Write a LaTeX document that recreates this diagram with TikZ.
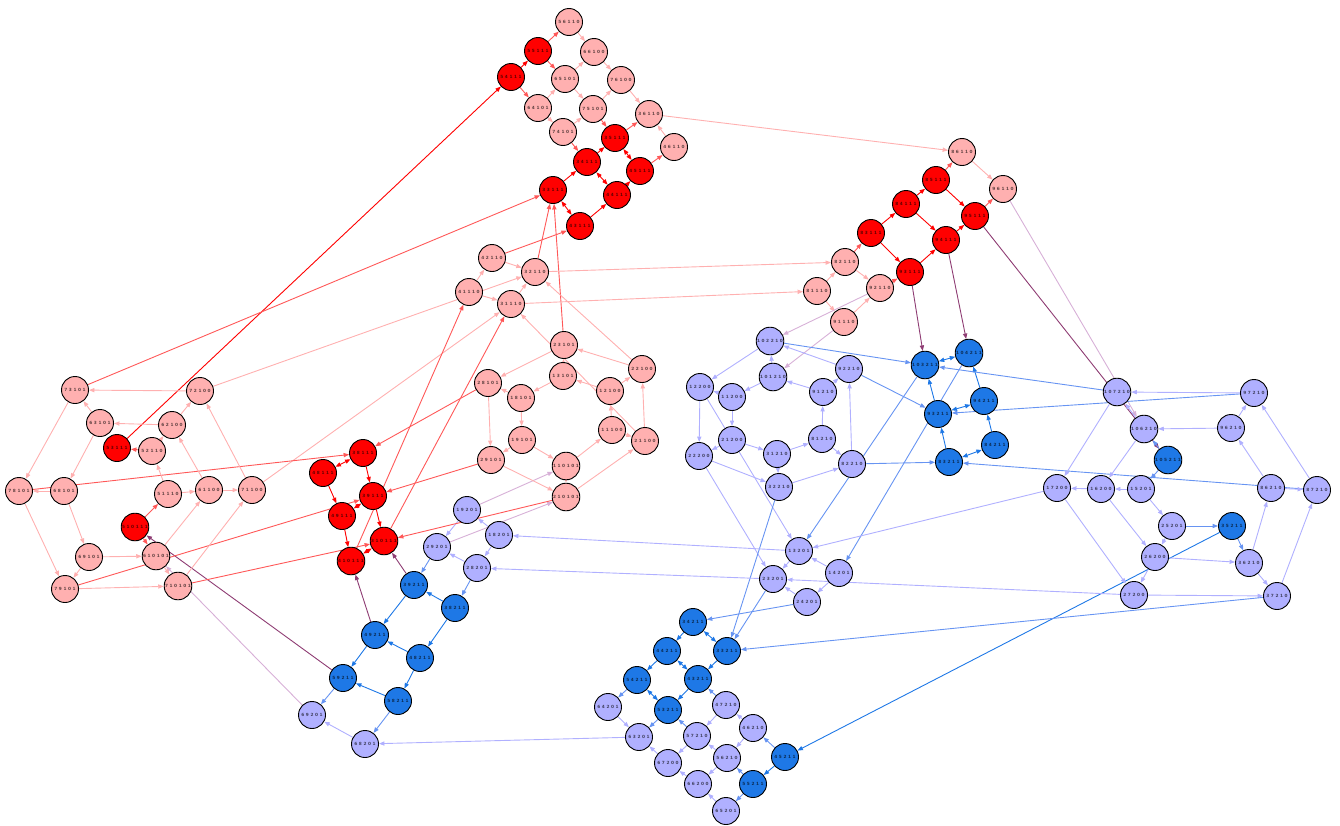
\documentclass[tikz,border=0pt]{standalone}
\usepackage{fontspec}
\usetikzlibrary{arrows.meta}
\newfontfamily\lblfamily{DejaVu Sans}
\pgfdeclarelayer{bg}
\pgfsetlayers{bg,main}

% node fills
\definecolor{nR}{RGB}{255,0,0}
\definecolor{nr}{RGB}{255,176,176}
\definecolor{nB}{RGB}{30,120,230}
\definecolor{nb}{RGB}{176,176,255}
% edge colours: mix of the two end colours
\definecolor{cRR}{RGB}{255,0,0}
\definecolor{cRr}{RGB}{255,88,88}
\definecolor{crr}{RGB}{255,176,176}
\definecolor{cBB}{RGB}{30,120,230}
\definecolor{cBb}{RGB}{103,148,242}
\definecolor{cbb}{RGB}{176,176,255}
\definecolor{cRB}{RGB}{142,60,115}
\definecolor{crb}{RGB}{215,176,215}

% letter-spaced state label
\def\lbA#1{\ifx#1\relax\else\kern0.8bp#1\kern0.8bp\expandafter\lbA\fi}
\newcommand\lb[1]{\lbA#1\relax}

\tikzset{
  st/.style={circle, draw=black, line width=0.9bp, minimum size=27bp, inner sep=0pt,
    font=\lblfamily\bfseries\fontsize{4.3}{5}\selectfont, text=black, text opacity=0.62},
  vR/.style={st, fill=nR}, vr/.style={st, fill=nr},
  vB/.style={st, fill=nB}, vb/.style={st, fill=nb},
  ed/.style={line width=0.9bp, -{Triangle[length=5.5bp,width=4.2bp]}},
  two/.style={{Triangle[length=5.5bp,width=4.2bp]}-{Triangle[length=5.5bp,width=4.2bp]}},
  xRR/.style={ed, draw=cRR}, xRr/.style={ed, draw=cRr}, xrr/.style={ed, draw=crr},
  xBB/.style={ed, draw=cBB}, xBb/.style={ed, draw=cBb}, xbb/.style={ed, draw=cbb},
  xRB/.style={ed, draw=cRB}, xrb/.style={ed, draw=crb},
}

\newcommand\N[4]{\node[#1] (n#2) at (#3,#4) {\lb{#2}};}
\newcommand\E[3]{\draw[#1] (n#2) -- (n#3);}

\begin{document}
\begin{tikzpicture}[x=1bp,y=-1bp]
\useasboundingbox (0,0) rectangle (1340,825);

% ---- upper red group
\N{vr}{56110}{569}{22}
\N{vR}{55111}{538}{51}
\N{vr}{66100}{594}{52}
\N{vR}{54111}{511}{77}
\N{vr}{65101}{565}{79}
\N{vr}{76100}{621}{80}
\N{vr}{64101}{538}{108}
\N{vr}{75101}{593}{109}
\N{vr}{36110}{649}{114}
\N{vr}{74101}{563}{132}
\N{vR}{35111}{615}{138}
\N{vr}{46110}{674}{147}
\N{vR}{34111}{587}{162}
\N{vR}{45111}{640}{171}
\N{vR}{33111}{553}{190}
\N{vR}{44111}{617}{195}
\N{vR}{43111}{580}{226}
\N{vr}{42110}{492}{258}
\N{vr}{32110}{535}{272}

% ---- right red group
\N{vr}{86110}{962}{152}
\N{vR}{85111}{936}{180}
\N{vr}{96110}{1003}{189}
\N{vR}{84111}{906}{204}
\N{vR}{95111}{975}{216}
\N{vR}{83111}{871}{233}
\N{vR}{94111}{946}{240}
\N{vr}{82110}{845}{262}
\N{vR}{93111}{910}{272}
\N{vr}{92110}{880}{288}
\N{vr}{81110}{817}{291}
\N{vr}{91110}{844}{322}

% ---- middle light red group
\N{vr}{41110}{469}{292}
\N{vr}{31110}{511}{304}
\N{vr}{23101}{564}{345}
\N{vr}{22100}{642}{369}
\N{vr}{13101}{563}{376}
\N{vr}{12100}{610}{391}
\N{vr}{28101}{488}{383}
\N{vr}{18101}{521}{398}
\N{vr}{11100}{612}{430}
\N{vr}{21100}{645}{441}
\N{vr}{19101}{522}{440}
\N{vr}{29101}{491}{460}
\N{vr}{110101}{566}{466}
\N{vr}{210101}{566}{497}

% ---- left red group
\N{vR}{38111}{363}{453}
\N{vR}{48111}{323}{473}
\N{vR}{39111}{373}{496}
\N{vR}{49111}{342}{516}
\N{vR}{310111}{384}{541}
\N{vR}{410111}{351}{561}
\N{vR}{53111}{117}{448}
\N{vR}{510111}{135}{527}

% ---- left light red group
\N{vr}{73101}{75}{390}
\N{vr}{72100}{200}{391}
\N{vr}{63101}{100}{423}
\N{vr}{62100}{172}{425}
\N{vr}{52110}{152}{451}
\N{vr}{78101}{19}{491}
\N{vr}{68101}{64}{491}
\N{vr}{51110}{168}{494}
\N{vr}{61100}{209}{490}
\N{vr}{71100}{252}{490}
\N{vr}{69101}{89}{557}
\N{vr}{610101}{156}{556}
\N{vr}{79101}{65}{589}
\N{vr}{710101}{178}{586}

% ---- lower left blue group
\N{vb}{19201}{467}{510}
\N{vb}{18201}{499}{535}
\N{vb}{29201}{437}{547}
\N{vb}{28201}{477}{568}
\N{vB}{39211}{414}{585}
\N{vB}{38211}{455}{608}
\N{vB}{49211}{375}{635}
\N{vB}{48211}{420}{658}
\N{vB}{59211}{343}{678}
\N{vB}{58211}{398}{701}
\N{vb}{69201}{312}{715}
\N{vb}{68201}{365}{744}

% ---- lower middle blue group
\N{vb}{13201}{799}{551}
\N{vb}{14201}{839}{573}
\N{vb}{23201}{773}{579}
\N{vb}{24201}{807}{602}
\N{vB}{34211}{693}{622}
\N{vB}{44211}{667}{651}
\N{vB}{33211}{727}{651}
\N{vB}{54211}{637}{680}
\N{vB}{43211}{698}{679}
\N{vb}{64201}{608}{707}
\N{vB}{53211}{668}{710}
\N{vb}{47210}{726}{705}
\N{vb}{63201}{639}{737}
\N{vb}{57210}{697}{736}
\N{vb}{46210}{753}{728}
\N{vb}{67200}{668}{763}
\N{vb}{56210}{727}{758}
\N{vB}{45211}{785}{757}
\N{vb}{66200}{698}{784}
\N{vB}{55211}{753}{784}
\N{vb}{65201}{726}{811}

% ---- middle right blue group
\N{vb}{102210}{770}{341}
\N{vb}{101210}{773}{377}
\N{vb}{92210}{849}{369}
\N{vb}{91210}{823}{392}
\N{vb}{12200}{700}{387}
\N{vb}{11200}{732}{397}
\N{vb}{21200}{732}{440}
\N{vb}{22200}{699}{456}
\N{vb}{31210}{777}{454}
\N{vb}{81210}{822}{439}
\N{vb}{82210}{852}{464}
\N{vb}{32210}{779}{487}
\N{vB}{103211}{925}{365}
\N{vB}{104211}{969}{353}
\N{vB}{93211}{938}{414}
\N{vB}{94211}{984}{401}
\N{vB}{83211}{949}{462}
\N{vB}{84211}{995}{445}

% ---- far right blue group
\N{vb}{107210}{1117}{392}
\N{vb}{97210}{1254}{393}
\N{vb}{106210}{1144}{429}
\N{vb}{96210}{1231}{428}
\N{vB}{105211}{1168}{460}
\N{vb}{17200}{1057}{488}
\N{vb}{16200}{1101}{489}
\N{vb}{15201}{1141}{489}
\N{vb}{86210}{1271}{488}
\N{vb}{87210}{1317}{490}
\N{vb}{25201}{1172}{526}
\N{vB}{35211}{1232}{526}
\N{vb}{26200}{1155}{557}
\N{vb}{36210}{1249}{563}
\N{vb}{27200}{1134}{595}
\N{vb}{37210}{1277}{596}

\begin{pgfonlayer}{bg}
% upper red group
\E{xRR}{54111}{55111}
\E{xRr}{55111}{56110}
\E{xRr}{55111}{65101}
\E{xRr}{54111}{64101}
\E{xrr}{64101}{65101}
\E{xrr}{65101}{66100}
\E{xrr}{56110}{66100}
\E{xrr}{66100}{76100}
\E{xrr}{65101}{75101}
\E{xrr}{64101}{74101}
\E{xrr}{74101}{75101}
\E{xrr}{75101}{76100}
\E{xrr}{76100}{36110}
\E{xRr}{75101}{35111}
\E{xRr}{74101}{34111}
\E{xRr}{35111}{36110}
\E{xrr}{46110}{36110}
\E{xRr}{45111}{46110}
\E{xRR,two}{35111}{45111}
\E{xRR}{34111}{35111}
\E{xRR,two}{34111}{44111}
\E{xRR}{44111}{45111}
\E{xRR}{33111}{34111}
\E{xRR,two}{33111}{43111}
\E{xRR}{43111}{44111}
\E{xRr}{42110}{43111}
\E{xrr}{42110}{32110}
\E{xRr}{32110}{33111}
\E{xRr}{23101}{33111}
\E{xRR}{53111}{54111}
\E{xRr}{73101}{33111}
\E{xrr}{36110}{86110}
\E{xrr}{32110}{82110}
\E{xrr}{31110}{81110}
\E{xrr}{41110}{42110}
\E{xrr}{41110}{31110}
\E{xrr}{31110}{32110}
\E{xrr}{72100}{32110}
\E{xrr}{71100}{31110}
\E{xRr}{410111}{41110}
\E{xRr}{310111}{31110}
% right red group
\E{xRr}{82110}{83111}
\E{xRR}{83111}{84111}
\E{xRR}{84111}{85111}
\E{xRr}{85111}{86110}
\E{xrr}{86110}{96110}
\E{xRR}{85111}{95111}
\E{xRr}{95111}{96110}
\E{xRR}{84111}{94111}
\E{xRR}{94111}{95111}
\E{xRR}{83111}{93111}
\E{xRR}{93111}{94111}
\E{xrr}{82110}{92110}
\E{xrr}{81110}{82110}
\E{xrr}{81110}{91110}
\E{xrr}{91110}{92110}
\E{xRr}{92110}{93111}
\E{xRB}{95111}{105211}
\E{xRB}{94111}{104211}
\E{xRB}{93111}{103211}
\E{xrb}{96110}{106210}
\E{xrb}{92110}{102210}
\E{xrb}{91110}{101210}
% middle right blue group
\E{xBB,two}{103211}{104211}
\E{xBB}{93211}{103211}
\E{xBB}{94211}{104211}
\E{xBB,two}{93211}{94211}
\E{xBB}{83211}{93211}
\E{xBB}{84211}{94211}
\E{xBB,two}{83211}{84211}
\E{xBb}{102210}{103211}
\E{xbb}{92210}{102210}
\E{xBb}{92210}{93211}
\E{xbb}{91210}{92210}
\E{xbb}{91210}{101210}
\E{xbb}{101210}{102210}
\E{xbb}{102210}{12200}
\E{xbb}{101210}{11200}
\E{xbb}{11200}{12200}
\E{xbb}{11200}{21200}
\E{xbb}{12200}{22200}
\E{xbb}{21200}{22200}
\E{xbb}{21200}{31210}
\E{xbb}{31210}{81210}
\E{xbb}{81210}{91210}
\E{xbb}{81210}{82210}
\E{xbb}{82210}{92210}
\E{xbb}{31210}{32210}
\E{xbb}{22200}{32210}
\E{xbb}{32210}{82210}
\E{xBb}{82210}{83211}
\E{xBb}{103211}{13201}
\E{xBb}{104211}{14201}
\E{xBb}{107210}{103211}
\E{xBb}{97210}{93211}
\E{xBb}{87210}{83211}
% far right blue group
\E{xbb}{97210}{107210}
\E{xbb}{96210}{106210}
\E{xbb}{96210}{97210}
\E{xbb}{86210}{96210}
\E{xbb}{87210}{97210}
\E{xbb}{86210}{87210}
\E{xbb}{107210}{17200}
\E{xbb}{106210}{16200}
\E{xBb}{105211}{15201}
\E{xBb}{105211}{106210}
\E{xbb}{106210}{107210}
\E{xbb}{15201}{16200}
\E{xbb}{16200}{17200}
\E{xbb}{15201}{25201}
\E{xBb}{25201}{35211}
\E{xBb}{35211}{36210}
\E{xBB}{35211}{45211}
\E{xbb}{25201}{26200}
\E{xbb}{16200}{26200}
\E{xbb}{26200}{36210}
\E{xbb}{26200}{27200}
\E{xbb}{17200}{27200}
\E{xbb}{36210}{37210}
\E{xbb}{27200}{37210}
\E{xbb}{37210}{87210}
\E{xbb}{36210}{86210}
\E{xbb}{17200}{13201}
\E{xbb}{27200}{23201}
\E{xBb}{37210}{33211}
\E{xbb}{12200}{13201}
\E{xbb}{22200}{23201}
\E{xBb}{32210}{33211}
% lower blue groups
\E{xBb}{24201}{34211}
\E{xbb}{24201}{23201}
\E{xbb}{13201}{23201}
\E{xbb}{14201}{13201}
\E{xbb}{14201}{24201}
\E{xBb}{23201}{33211}
\E{xbb}{23201}{28201}
\E{xbb}{13201}{18201}
\E{xbb}{18201}{19201}
\E{xbb}{19201}{29201}
\E{xbb}{18201}{28201}
\E{xbb}{28201}{29201}
\E{xBb}{28201}{38211}
\E{xBb}{29201}{39211}
\E{xBB}{38211}{39211}
\E{xBB}{38211}{48211}
\E{xBB}{39211}{49211}
\E{xBB}{48211}{49211}
\E{xBB}{48211}{58211}
\E{xBB}{49211}{59211}
\E{xBB}{58211}{59211}
\E{xBb}{58211}{68201}
\E{xBb}{59211}{69201}
\E{xbb}{68201}{69201}
\E{xbb}{63201}{68201}
\E{xbb}{64201}{63201}
\E{xBb}{54211}{64201}
\E{xBb}{53211}{63201}
\E{xBB}{44211}{54211}
\E{xBB,two}{54211}{53211}
\E{xbb}{67200}{63201}
\E{xBB}{34211}{44211}
\E{xBB,two}{34211}{33211}
\E{xBB}{33211}{43211}
\E{xBB,two}{44211}{43211}
\E{xBB}{43211}{53211}
\E{xBb}{47210}{43211}
\E{xbb}{47210}{57210}
\E{xbb}{46210}{47210}
\E{xBb}{57210}{53211}
\E{xbb}{57210}{67200}
\E{xbb}{56210}{57210}
\E{xbb}{46210}{56210}
\E{xBb}{45211}{46210}
\E{xBB}{45211}{55211}
\E{xBb}{55211}{56210}
\E{xbb}{56210}{66200}
\E{xbb}{66200}{67200}
\E{xbb}{65201}{66200}
\E{xBb}{55211}{65201}
\E{xRB}{39211}{310111}
\E{xRB}{49211}{410111}
\E{xRB}{59211}{510111}
\E{xrb}{69201}{610101}
\E{xrb}{19201}{110101}
\E{xrb}{29201}{210101}
% middle light red group
\E{xrr}{22100}{32110}
\E{xrr}{22100}{23101}
\E{xrr}{21100}{22100}
\E{xrr}{12100}{22100}
\E{xrr}{12100}{13101}
\E{xrr}{11100}{12100}
\E{xrr}{11100}{21100}
\E{xrr}{21100}{31110}
\E{xrr}{13101}{23101}
\E{xrr}{13101}{18101}
\E{xrr}{23101}{28101}
\E{xrr}{18101}{28101}
\E{xrr}{18101}{19101}
\E{xrr}{28101}{29101}
\E{xrr}{19101}{29101}
\E{xrr}{19101}{110101}
\E{xrr}{110101}{210101}
\E{xrr}{29101}{210101}
\E{xRr}{29101}{39111}
\E{xRr}{28101}{38111}
\E{xRr}{210101}{310111}
\E{xrr}{110101}{11100}
\E{xrr}{210101}{21100}
% left red group
\E{xRR,two}{38111}{48111}
\E{xRR,two}{39111}{49111}
\E{xRR,two}{310111}{410111}
\E{xRR}{38111}{39111}
\E{xRR}{48111}{49111}
\E{xRR}{39111}{310111}
\E{xRR}{49111}{410111}
\E{xRr}{78101}{38111}
\E{xRr}{79101}{39111}
\E{xRr}{710101}{310111}
% left light red group
\E{xrr}{72100}{73101}
\E{xrr}{62100}{63101}
\E{xrr}{62100}{72100}
\E{xrr}{63101}{73101}
\E{xRr}{52110}{53111}
\E{xrr}{52110}{62100}
\E{xrr}{51110}{52110}
\E{xrr}{51110}{61100}
\E{xrr}{61100}{71100}
\E{xrr}{61100}{62100}
\E{xrr}{71100}{72100}
\E{xrr}{73101}{78101}
\E{xrr}{63101}{68101}
\E{xrr}{68101}{78101}
\E{xRr}{510111}{51110}
\E{xRr}{510111}{610101}
\E{xrr}{610101}{61100}
\E{xrr}{710101}{71100}
\E{xrr}{68101}{69101}
\E{xrr}{69101}{610101}
\E{xrr}{69101}{79101}
\E{xrr}{78101}{79101}
\E{xrr}{79101}{710101}
\E{xrr}{610101}{710101}
\end{pgfonlayer}
\end{tikzpicture}
\end{document}
